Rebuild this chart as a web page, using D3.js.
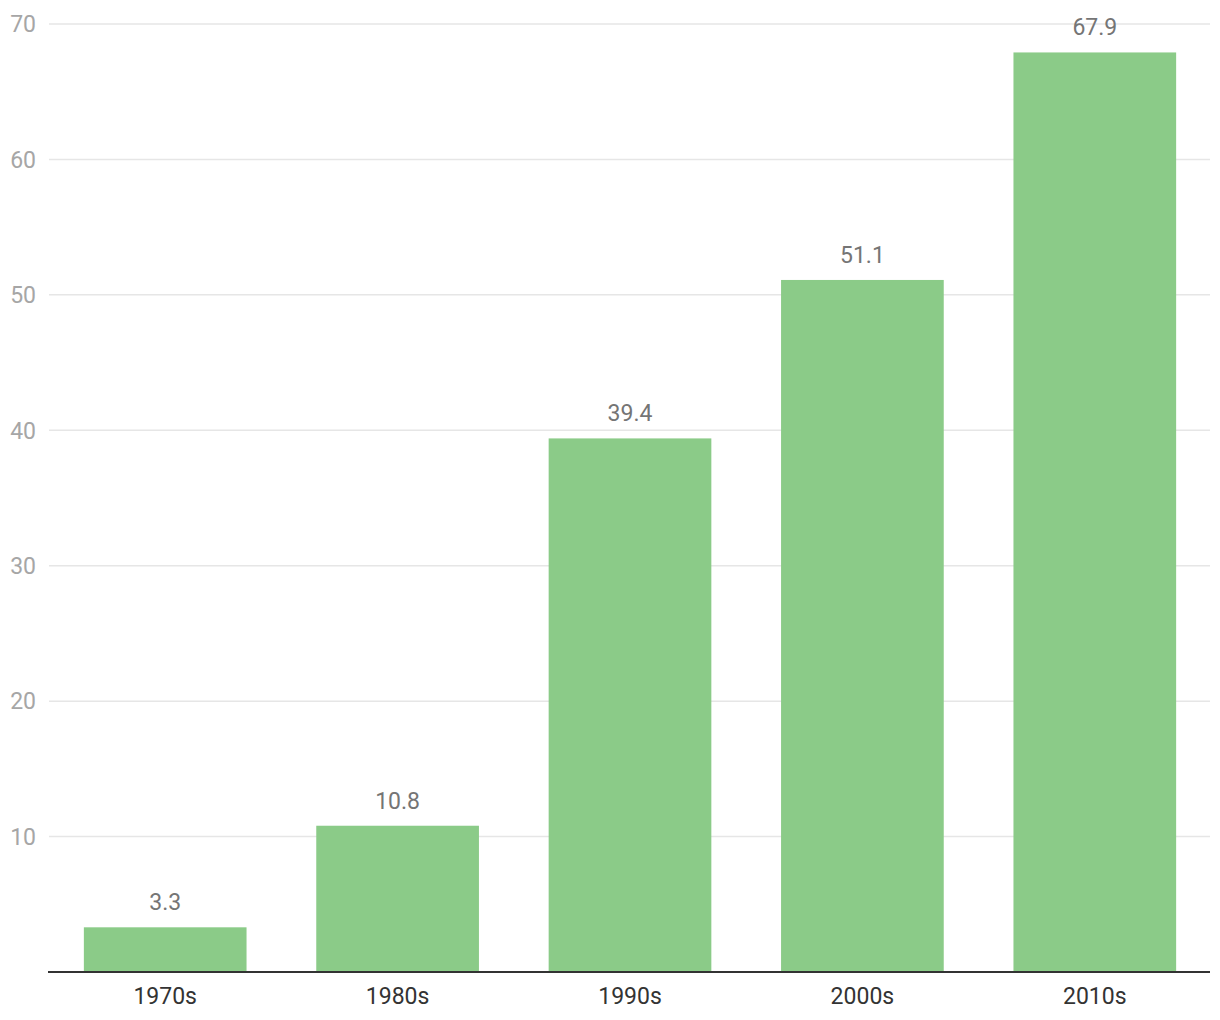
<!DOCTYPE html>
<html><head><meta charset="utf-8">
<script src="https://cdn.jsdelivr.net/npm/d3@7"></script>
<style>html,body{margin:0;padding:0;background:#fff;}svg{display:block;font-family:Roboto,sans-serif;}</style>
</head><body>
<svg id="c" width="1220" height="1020"></svg>
<script>
const categories = ["1970s","1980s","1990s","2000s","2010s"];
const values = [3.3, 10.8, 39.4, 51.1, 67.9];
const yTicks = [10,20,30,40,50,60,70];

const svg = d3.select("#c");
const mLeft = 48, mRight = 1210, mTop = 24, mBottom = 972;
const x = d3.scaleBand().domain(categories).range([mLeft + 1, mRight + 1]).paddingInner(0.3).paddingOuter(0.15);
const y = d3.scaleLinear().domain([0,70]).range([mBottom, mTop]);

// gridlines
svg.append("g").selectAll("line").data(yTicks).join("line")
  .attr("x1", mLeft+1).attr("x2", mRight)
  .attr("y1", d=>y(d)).attr("y2", d=>y(d))
  .attr("stroke", "#e6e6e6").attr("stroke-width", 1.5);

// y tick labels
svg.append("g").selectAll("text").data(yTicks).join("text")
  .attr("x", 36).attr("y", d=>y(d)).attr("dy","0.36em")
  .attr("text-anchor","end").attr("font-size", 23).attr("fill","#a6a6a6")
  .text(d=>d);

// bars
svg.append("g").selectAll("rect").data(values).join("rect")
  .attr("x", (d,i)=>x(categories[i])).attr("width", x.bandwidth())
  .attr("y", d=>y(d)).attr("height", d=>y(0)-y(d))
  .attr("fill", "#8bcb88");

// value labels
svg.append("g").selectAll("text").data(values).join("text")
  .attr("x", (d,i)=>x(categories[i])+x.bandwidth()/2)
  .attr("y", d=>y(d)-17)
  .attr("text-anchor","middle").attr("font-size", 23).attr("fill","#757575")
  .text(d=>d.toFixed(1));

// baseline
svg.append("line").attr("x1", mLeft).attr("x2", mRight)
  .attr("y1", y(0)).attr("y2", y(0)).attr("stroke","#333").attr("stroke-width",2);

// x labels
svg.append("g").selectAll("text").data(categories).join("text")
  .attr("x", d=>x(d)+x.bandwidth()/2).attr("y", 1004)
  .attr("text-anchor","middle").attr("font-size", 23).attr("fill","#333")
  .text(d=>d);
</script>
</body></html>
